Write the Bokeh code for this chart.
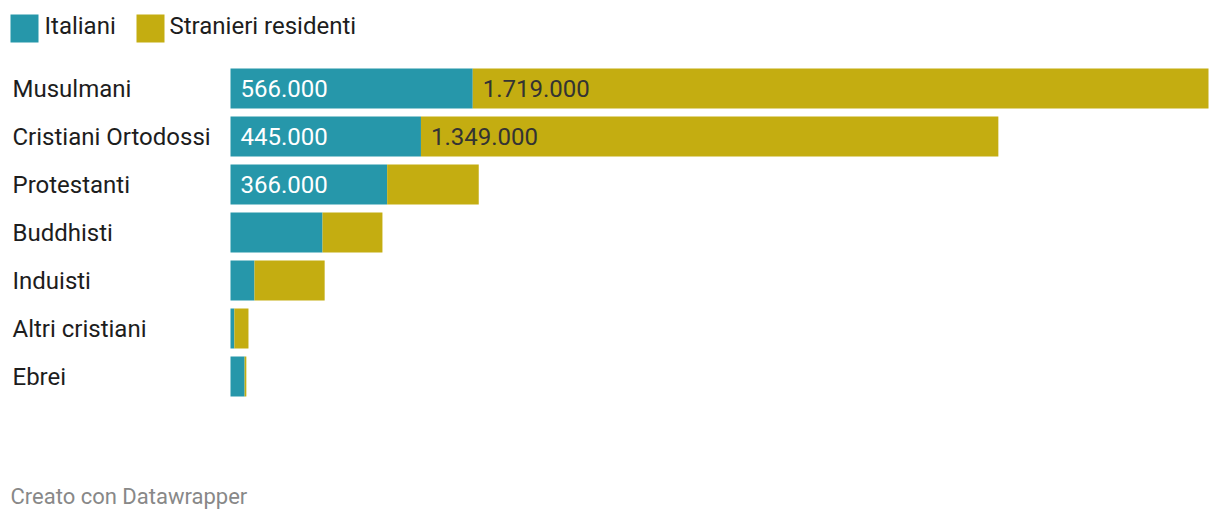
from bokeh.plotting import figure
from bokeh.models import Range1d, ColumnDataSource
from bokeh.core.properties import value
from bokeh.embed import file_html
from bokeh.resources import INLINE

categories = ["Musulmani", "Cristiani Ortodossi", "Protestanti", "Buddhisti",
              "Induisti", "Altri cristiani", "Ebrei"]
italiani = [566000, 445000, 366000, 215000, 56000, 9000, 33000]
stranieri = [1719000, 1349000, 214000, 140000, 164000, 33000, 4000]
series_names = ["Italiani", "Stranieri residenti"]
colors = ["#2697aa", "#c4ad11"]

W, H = 1220, 522
FONT = "Roboto"
FS = "24px"

totals = [a + b for a, b in zip(italiani, stranieri)]
tmax = max(totals)
bar_left, bar_right = 230, 1208          # figure pixel coordinates
k = (bar_right - bar_left) / tmax        # px per unit
x_start = -bar_left / k
x_end = x_start + W / k

row_px = 48
first_center = 88
y_top = -first_center / row_px
y_bottom = y_top + H / row_px

def px(fx):
    return x_start + fx / k

def py(fy):
    return y_top + fy / row_px

p = figure(width=W, height=H, output_backend="svg", toolbar_location=None,
           x_range=Range1d(x_start, x_end), y_range=Range1d(y_bottom, y_top),
           min_border=0, min_border_left=0, min_border_right=0,
           min_border_top=0, min_border_bottom=0)
p.xaxis.visible = False
p.yaxis.visible = False
p.xgrid.visible = False
p.ygrid.visible = False
p.outline_line_color = None
p.background_fill_color = "white"
p.border_fill_color = "white"

ys = list(range(len(categories)))
src = ColumnDataSource(dict(y=ys, cat=categories, it=italiani, st=stranieri,
                            tot=totals))
p.hbar(y="y", left=0, right="it", height=40 / row_px, fill_color=colors[0],
       line_color=None, source=src)
p.hbar(y="y", left="it", right="tot", height=40 / row_px, fill_color=colors[1],
       line_color=None, source=src)

# category labels
p.text(x=[px(12)] * len(categories), y=ys, text=categories,
       text_font=value(FONT), text_font_size=FS, text_color="#1d1d1d",
       text_baseline="middle", text_align="left")

def fmt(v):
    return "{:,}".format(v).replace(",", ".")

# value labels
min_px = 110
ly, lt = [], []
for i, a in enumerate(italiani):
    if a * k > min_px:
        ly.append(i); lt.append(fmt(a))
p.text(x=[10 / k] * len(ly), y=ly, text=lt, text_font=value(FONT),
       text_font_size=FS, text_color="white", text_baseline="middle",
       text_align="left")
sx, sy, st_ = [], [], []
for i, (a, b) in enumerate(zip(italiani, stranieri)):
    if b * k > min_px:
        sx.append(a + 10 / k); sy.append(i); st_.append(fmt(b))
p.text(x=sx, y=sy, text=st_, text_font=value(FONT), text_font_size=FS,
       text_color="#333333", text_baseline="middle", text_align="left")

# legend
leg_sq_x = [24, 150]
leg_tx_x = [44, 169]
for c, name, sxp, txp in zip(colors, series_names, leg_sq_x, leg_tx_x):
    p.scatter(x=[px(sxp)], y=[py(28)], marker="square", size=28,
              fill_color=c, line_color=None)
    p.text(x=[px(txp)], y=[py(25)], text=[name], text_font=value(FONT),
           text_font_size=FS, text_color="#1d1d1d",
           text_baseline="middle", text_align="left")

# footer
p.text(x=[px(10)], y=[py(496)], text=["Creato con Datawrapper"],
       text_font=value(FONT), text_font_size="22px", text_color="#888888",
       text_baseline="middle", text_align="left")

open("out.html", "w").write(file_html(p, INLINE))
